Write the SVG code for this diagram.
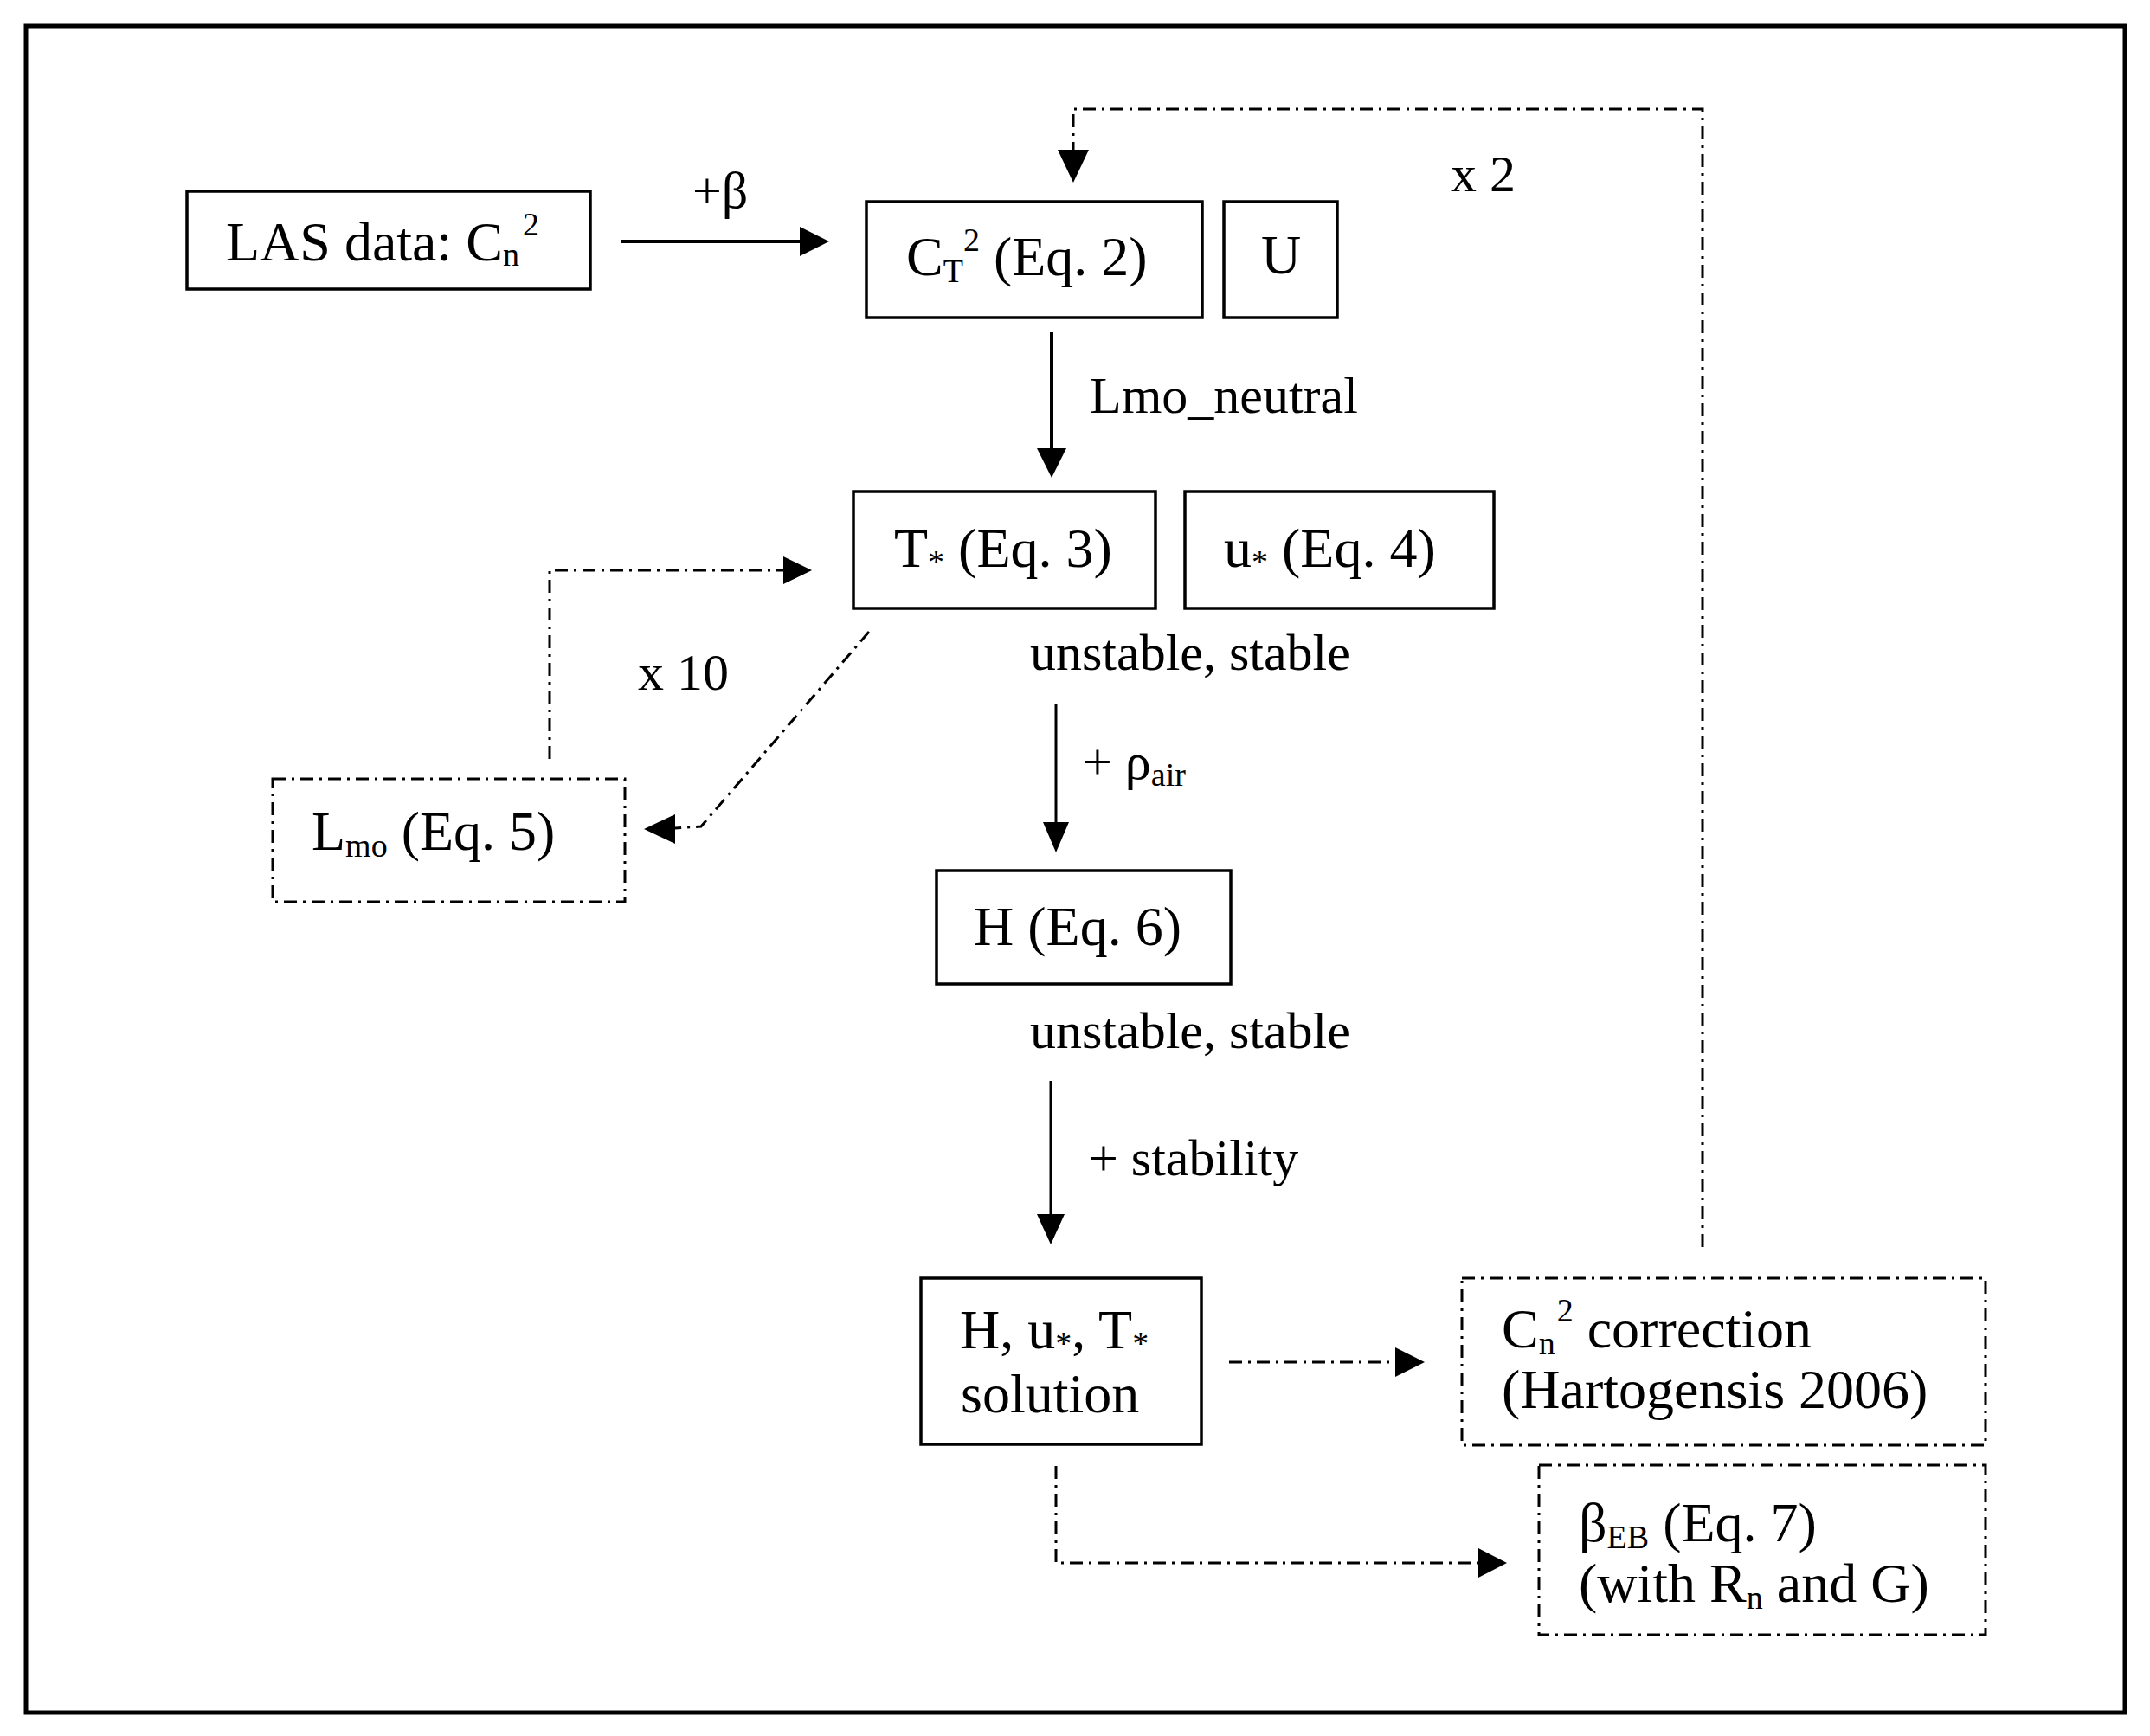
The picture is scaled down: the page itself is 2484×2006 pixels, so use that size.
<svg xmlns="http://www.w3.org/2000/svg" width="2484" height="2006" viewBox="0 0 2484 2006">
<style>
text{font-family:"Liberation Serif","Times New Roman",serif;fill:#000}
.bt{font-size:64px}
.lb{font-size:60px}
.sm{font-size:38px}
.ast{font-size:38px}
.box{fill:#fff;stroke:#000;stroke-width:3.5}
.dbox{fill:#fff;stroke:#000;stroke-width:3;stroke-dasharray:15 7 3 7}
.sol{fill:none;stroke:#000;stroke-width:4}
.thin{fill:none;stroke:#000;stroke-width:3}
.dd{fill:none;stroke:#000;stroke-width:3;stroke-dasharray:15 7 3 7}
.hd{fill:#000;stroke:none}
</style>
<rect x="0" y="0" width="2484" height="2006" fill="#fff"/>
<rect x="30" y="30" width="2425" height="1949" fill="none" stroke="#000" stroke-width="5"/>

<g id="connectors">
  <line class="sol" x1="718" y1="279" x2="926" y2="279"/>
  <polygon class="hd" points="924,262 958,279 924,296"/>
  <line class="sol" x1="1215" y1="384" x2="1215" y2="520"/>
  <polygon class="hd" points="1198,518 1232,518 1215,552"/>
  <line class="thin" x1="1220" y1="813" x2="1220" y2="952"/>
  <polygon class="hd" points="1205,950 1235,950 1220,985"/>
  <line class="thin" x1="1214" y1="1249" x2="1214" y2="1405"/>
  <polygon class="hd" points="1198,1403 1230,1403 1214,1438"/>

  <polyline class="dd" points="1967,1441 1967,126 1240,126 1240,173"/>
  <polygon class="hd" points="1222,173 1258,173 1240,211"/>
  <line class="dd" x1="1420" y1="1574" x2="1612" y2="1574"/>
  <polygon class="hd" points="1612,1557 1646,1574 1612,1591"/>
  <polyline class="dd" points="1220,1694 1220,1806 1708,1806"/>
  <polygon class="hd" points="1708,1789 1741,1806 1708,1823"/>
  <polyline class="dd" points="635,877 635,659 905,659"/>
  <polygon class="hd" points="905,643 938,659 905,675"/>
  <polyline class="dd" points="1004,730 810,955 780,957"/>
  <polygon class="hd" points="780,941 744,958 780,975"/>

  <text class="lb" x="800" y="240">+β</text>
  <text class="lb" x="1676" y="221">x 2</text>
  <text class="lb" x="1259" y="477">Lmo_neutral</text>
  <text class="lb" x="737" y="797">x 10</text>
  <text class="lb" x="1190" y="774">unstable, stable</text>
  <text class="lb" x="1251" y="900">+ ρ<tspan class="sm" dy="8">air</tspan></text>
  <text class="lb" x="1190" y="1211">unstable, stable</text>
  <text class="lb" x="1258" y="1358">+ stability</text>
</g>

<g id="las">
  <rect class="box" x="216" y="221" width="466" height="113"/>
  <text class="bt" x="261" y="301">LAS data: C<tspan class="sm" dy="6">n</tspan><tspan class="sm" dx="4" dy="-35">2</tspan></text>
</g>
<g id="ct2">
  <rect class="box" x="1001" y="233" width="388" height="134"/>
  <text class="bt" x="1047" y="318">C<tspan class="sm" dy="8">T</tspan><tspan class="sm" dy="-36">2</tspan><tspan dy="28"> (Eq. 2)</tspan></text>
</g>
<g id="u">
  <rect class="box" x="1414" y="233" width="131" height="134"/>
  <text class="bt" x="1480" y="316" text-anchor="middle">U</text>
</g>
<g id="tstar">
  <rect class="box" x="986" y="568" width="349" height="135"/>
  <text class="bt" x="1033" y="655">T<tspan class="ast" dy="7">*</tspan><tspan dy="-7"> (Eq. 3)</tspan></text>
</g>
<g id="ustar">
  <rect class="box" x="1369" y="568" width="357" height="135"/>
  <text class="bt" x="1414" y="655">u<tspan class="ast" dy="7">*</tspan><tspan dy="-7"> (Eq. 4)</tspan></text>
</g>
<g id="lmo">
  <rect class="dbox" x="315" y="900" width="407" height="142"/>
  <text class="bt" x="360" y="982">L<tspan class="sm" dy="8">mo</tspan><tspan dy="-8"> (Eq. 5)</tspan></text>
</g>
<g id="h">
  <rect class="box" x="1082" y="1006" width="340" height="131"/>
  <text class="bt" x="1125" y="1092">H (Eq. 6)</text>
</g>
<g id="solution">
  <rect class="box" x="1064" y="1477" width="324" height="192"/>
  <text class="bt" x="1109" y="1558">H, u<tspan class="ast" dy="7">*</tspan><tspan dy="-7">, T</tspan><tspan class="ast" dy="7">*</tspan></text>
  <text class="bt" x="1110" y="1632">solution</text>
</g>
<g id="cn2corr">
  <rect class="dbox" x="1689" y="1477" width="605" height="193"/>
  <text class="bt" x="1735" y="1557">C<tspan class="sm" dy="8">n</tspan><tspan class="sm" dx="2" dy="-38">2</tspan><tspan dy="30"> correction</tspan></text>
  <text class="bt" x="1735" y="1627">(Hartogensis 2006)</text>
</g>
<g id="beb">
  <rect class="dbox" x="1778" y="1693" width="516" height="196"/>
  <text class="bt" x="1824" y="1781">β<tspan class="sm" dy="8">EB</tspan><tspan dy="-8"> (Eq. 7)</tspan></text>
  <text class="bt" x="1824" y="1851">(with R<tspan class="sm" dy="8">n</tspan><tspan dy="-8"> and G)</tspan></text>
</g>
</svg>
